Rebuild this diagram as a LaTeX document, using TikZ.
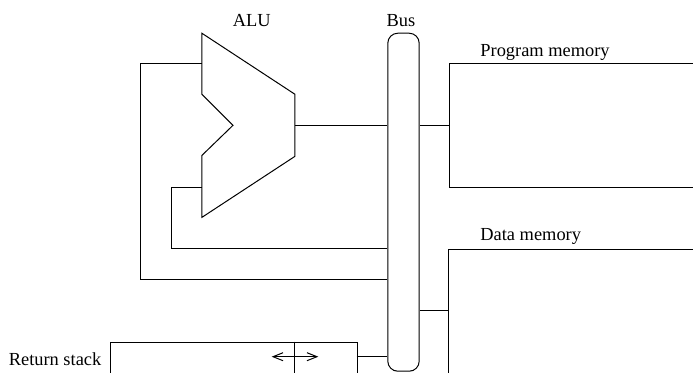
\documentclass[tikz,border=0pt]{standalone}
\usepackage{fontspec}
\setmainfont{Liberation Serif}
\usepackage{tikz}
\usetikzlibrary{arrows.meta,positioning,calc}
\tikzset{
  wire/.style={draw=black, line width=.5pt},
  box/.style={wire, fill=none, inner sep=0pt, anchor=north west},
  busbar/.style={box, rounded corners=5pt},
  lbl/.style={font=\fontsize{9.2}{11}\selectfont, inner sep=0pt},
  dbl/.style={wire, {Straight Barb[length=5pt,width=4pt]}-{Straight Barb[length=5pt,width=4pt]}},
}

\begin{document}
\begin{tikzpicture}[x=.5pt, y=-.5pt]
    \useasboundingbox (0,0) rectangle (693,372);
    \clip (0,0) rectangle (693,372);

    % ALU
    \coordinate (alu) at (202,33.3);
    \draw[wire] (alu) -- ++(93,61) -- ++(0,62) -- ++(-93,61) -- ++(0,-62) -- ++(31,-30) -- ++(-31,-31) -- cycle;
    \coordinate (alu-out) at (295,125);
    \coordinate (alu-in1) at (202,63.3);
    \coordinate (alu-in2) at (202,187.3);
    \node[lbl, anchor=base] (alulbl) at (251.7,26) {ALU};

    % bus
    \node[busbar, minimum width=15.7pt, minimum height=169pt] (bus) at (387.3,32.7) {};
    \node[lbl, anchor=base] (buslbl) at (401,26) {Bus};

    % memories
    \node[box, minimum width=130pt, minimum height=61.7pt] (prog) at (449,63.3) {};
    \node[lbl, anchor=base west] (proglbl) at (480,56) {Program memory};
    \node[box, minimum width=130pt, minimum height=70pt] (data) at (448.3,249) {};
    \node[lbl, anchor=base west] (datalbl) at (480,240.7) {Data memory};
    \coordinate (data-in) at (448.3,310);

    % return stack
    \node[box, minimum width=123.3pt, minimum height=30pt] (rstack) at (110,341.7) {};
    \node[lbl, anchor=base east] (rstacklbl) at (101.7,365.7) {Return stack};
    \draw[wire] ($(rstack.north west)+(185,0)$) -- ++(0,40);
    \coordinate (rs-l) at (271.7,356.7);
    \coordinate (rs-r) at (318.3,356.7);
    \draw[dbl] (rs-l) -- (rs-r);
    \coordinate (rs-out) at (356.7,356.7);

    % feedback
    \coordinate (fb1) at (140.7,279.5);
    \coordinate (fb2) at (171.7,248.7);

    \draw[wire] (alu-out) -- (alu-out -| bus.west);
    \draw[wire] (alu-in1) -| (fb1) -- (fb1 -| bus.west);
    \draw[wire] (alu-in2) -| (fb2) -- (fb2 -| bus.west);
    \draw[wire] (prog.west) -- (prog.west -| bus.east);
    \draw[wire] (data-in) -- (data-in -| bus.east);
    \draw[wire] (rs-out) -- (rs-out -| bus.west);
\end{tikzpicture}
\end{document}
